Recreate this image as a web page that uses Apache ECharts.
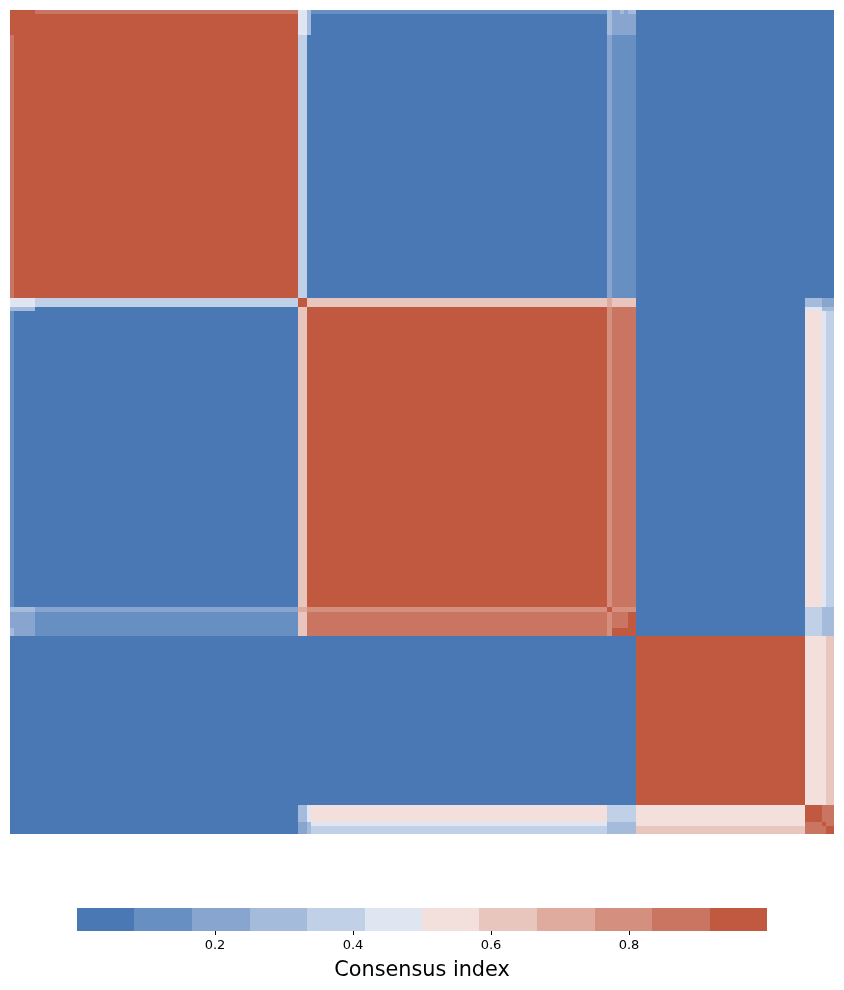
<!DOCTYPE html>
<html>
<head>
<meta charset="utf-8">
<script src="https://cdn.jsdelivr.net/npm/echarts@6/dist/echarts.min.js"></script>
<style>html,body{margin:0;padding:0;background:#fff;}#c{width:844px;height:990px;}</style>
</head>
<body>
<div id="c"></div>
<script>
// ---- colour scale (12 discrete bins from 0 to 1) ----
const binEdges = [0, 0.0833, 0.1667, 0.25, 0.3333, 0.4167, 0.5, 0.5833, 0.6667, 0.75, 0.8333, 0.9167, 1];
const binColors = ['#4a78b4', '#678fc2', '#87a5cf', '#a4bbdb', '#c0d0e6', '#e0e6f1',
                   '#f3e0dd', '#e9c6bd', '#e0ab9f', '#d48f7f', '#c97562', '#c0593f'];
const tickValues = [0.2, 0.4, 0.6, 0.8];

// ---- consensus matrix rows as runs of [value, count] over the 200 ordered samples ----
const rowA0  = [[1, 6], [0.88, 64], [0.45, 2], [0.3, 1], [0.12, 72], [0.3, 1], [0.2, 2], [0.3, 1], [0.2, 1], [0.3, 2], [0, 48]];
const rowA1  = [[1, 70], [0.45, 2], [0.3, 1], [0, 72], [0.3, 1], [0.2, 6], [0, 48]];
const rowA   = [[0.88, 1], [1, 69], [0.38, 2], [0, 73], [0.2, 1], [0.12, 6], [0, 48]];
const rowS   = [[0.45, 6], [0.38, 64], [1, 2], [0.62, 73], [0.7, 1], [0.62, 6], [0, 41], [0.3, 4], [0.2, 3]];
const rowB72 = [[0.3, 6], [0, 64], [0.62, 2], [1, 73], [0.75, 1], [0.88, 6], [0, 41], [0.45, 4], [0.3, 3]];
const rowB   = [[0.12, 1], [0, 69], [0.62, 2], [1, 73], [0.75, 1], [0.88, 6], [0, 41], [0.55, 4], [0.45, 1], [0.38, 2]];
const rowBs0 = [[0.3, 6], [0.2, 64], [0.7, 2], [0.75, 73], [1, 1], [0.8, 6], [0, 41], [0.38, 4], [0.3, 3]];
const rowBs1 = [[0.2, 6], [0.12, 64], [0.62, 2], [0.88, 73], [0.8, 1], [0.88, 4], [1, 2], [0, 41], [0.38, 4], [0.3, 3]];
const rowBs2 = [[0.3, 1], [0.2, 5], [0.12, 64], [0.62, 2], [0.88, 73], [0.8, 1], [1, 6], [0, 41], [0.38, 4], [0.3, 3]];
const rowC   = [[0, 152], [1, 41], [0.55, 5], [0.62, 2]];
const rowCs0 = [[0, 70], [0.3, 2], [0.45, 1], [0.55, 72], [0.38, 7], [0.55, 41], [1, 4], [0.88, 3]];
const rowCs1 = [[0, 70], [0.2, 2], [0.3, 1], [0.45, 72], [0.3, 7], [0.55, 41], [0.88, 4], [1, 1], [0.88, 2]];
const rowCs2 = [[0, 70], [0.2, 2], [0.3, 1], [0.38, 72], [0.3, 7], [0.62, 41], [0.88, 5], [1, 2]];
// which row pattern each block of consecutive rows uses: [pattern, number of rows]
const rowOrder = [[rowA0, 1], [rowA1, 5], [rowA, 64], [rowS, 2], [rowB72, 1], [rowB, 72],
                  [rowBs0, 1], [rowBs1, 4], [rowBs2, 2], [rowC, 41], [rowCs0, 4], [rowCs1, 1], [rowCs2, 2]];

const sampleIds = [];
for (let i = 0; i < 200; i++) sampleIds.push(String(i));

// blocks: [firstCol, firstRow, nCols, nRows, value]
const blocks = [];
let r = 0;
rowOrder.forEach(([pat, n]) => {
  let c = 0;
  pat.forEach(([v, cnt]) => { blocks.push([c, r, cnt, n, v]); c += cnt; });
  r += n;
});

const barData = [];
for (let i = 0; i < binColors.length; i++) barData.push([binEdges[i], binEdges[i + 1], i]);

const pieces = binColors.map((col, i) => i === binColors.length - 1
  ? { gte: binEdges[i], lte: binEdges[i + 1], color: col }
  : { gte: binEdges[i], lt: binEdges[i + 1], color: col });

const chart = echarts.init(document.getElementById('c'), null, { renderer: 'canvas' });
chart.setOption({
  animation: false,
  backgroundColor: '#ffffff',
  textStyle: { fontFamily: 'DejaVu Sans' },
  grid: [
    { left: 10, top: 10, width: 824, height: 824 },
    { left: 77, top: 908, width: 690, height: 23 }
  ],
  xAxis: [
    { type: 'category', data: sampleIds, gridIndex: 0, show: false },
    { type: 'value', gridIndex: 1, min: 0, max: 1,
      axisLine: { show: false }, splitLine: { show: false },
      axisTick: { show: true, length: 4, lineStyle: { color: '#000', width: 1 }, customValues: tickValues },
      axisLabel: { customValues: tickValues, formatter: v => v.toFixed(1), fontSize: 13, color: '#000', margin: 8,
                   fontFamily: 'DejaVu Sans' },
      name: 'Consensus index', nameLocation: 'middle', nameGap: 29,
      nameTextStyle: { fontSize: 20.8, color: '#000', fontFamily: 'DejaVu Sans' } }
  ],
  yAxis: [
    { type: 'category', data: sampleIds, gridIndex: 0, inverse: true, show: false },
    { type: 'value', gridIndex: 1, min: 0, max: 1, show: false }
  ],
  visualMap: { type: 'piecewise', show: false, seriesIndex: 0, dimension: 4, pieces: pieces },
  series: [
    { type: 'custom', xAxisIndex: 0, yAxisIndex: 0, data: blocks, silent: true,
      encode: { x: 0, y: 1 },
      renderItem: function (params, api) {
        const p = api.coord([api.value(0), api.value(1)]);
        const sz = api.size([1, 1]);
        const x0 = Math.round(p[0] - sz[0] / 2);
        const y0 = Math.round(p[1] - sz[1] / 2);
        const x1 = Math.round(p[0] - sz[0] / 2 + api.value(2) * sz[0]);
        const y1 = Math.round(p[1] - sz[1] / 2 + api.value(3) * sz[1]);
        return { type: 'rect', shape: { x: x0, y: y0, width: x1 - x0, height: y1 - y0 },
                 style: { fill: api.visual('color') } };
      } },
    { type: 'custom', xAxisIndex: 1, yAxisIndex: 1, data: barData, silent: true,
      renderItem: function (params, api) {
        const p0 = api.coord([api.value(0), 0]);
        const p1 = api.coord([api.value(1), 1]);
        const x0 = Math.round(p0[0]), x1 = Math.round(p1[0]);
        return { type: 'rect', shape: { x: x0, y: p1[1], width: x1 - x0, height: p0[1] - p1[1] },
                 style: { fill: binColors[api.value(2)] } };
      } }
  ]
});
</script>
</body>
</html>
